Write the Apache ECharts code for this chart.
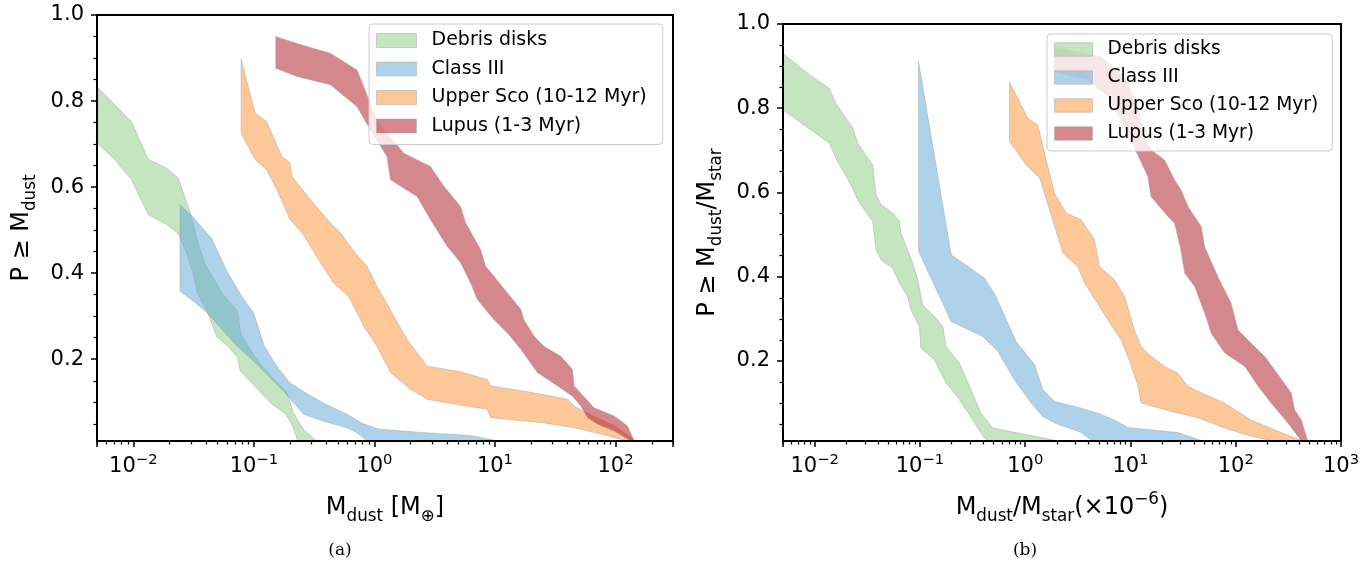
<!DOCTYPE html>
<html><head><meta charset="utf-8">
<script src="https://cdn.jsdelivr.net/npm/echarts@6/dist/echarts.min.js"></script>
<style>html,body{margin:0;padding:0;background:#fff}#c{width:1372px;height:567px}</style>
</head><body><div id="c"></div>
<script>
// ---------------- data (x, P) ----------------
const seriesNames = ['Debris disks', 'Class III', 'Upper Sco (10-12 Myr)', 'Lupus (1-3 Myr)'];

// panel (a): Mdust [M_earth]
const debrisA_upper = [[0.005,0.833],[0.00968,0.752],[0.0133,0.665],[0.0189,0.644],[0.0236,0.621],[0.0295,0.543],[0.0338,0.478],[0.0394,0.420],[0.0556,0.350],[0.0733,0.312],[0.0777,0.261],[0.1025,0.204],[0.139,0.161],[0.188,0.122],[0.213,0.076],[0.258,0.037],[0.334,0.01]];
const debrisA_lower = [[0.005,0.702],[0.00703,0.664],[0.00968,0.617],[0.0133,0.536],[0.0189,0.513],[0.0236,0.492],[0.0277,0.447],[0.0315,0.397],[0.0338,0.355],[0.0413,0.310],[0.0492,0.252],[0.0623,0.227],[0.0733,0.204],[0.0769,0.173],[0.1076,0.130],[0.139,0.097],[0.182,0.074],[0.210,0.045],[0.231,0.01]];
const classA_upper = [[0.0244,0.559],[0.0315,0.530],[0.0448,0.480],[0.0597,0.405],[0.0795,0.346],[0.0993,0.308],[0.122,0.231],[0.155,0.184],[0.200,0.145],[0.284,0.118],[0.384,0.097],[0.593,0.072],[0.795,0.051],[1.08,0.038],[2.41,0.030],[6.28,0.023],[10.7,0.01]];
const classA_lower = [[0.0244,0.358],[0.0315,0.335],[0.0394,0.312],[0.0525,0.274],[0.0722,0.231],[0.0993,0.196],[0.1367,0.157],[0.176,0.126],[0.213,0.099],[0.258,0.072],[0.379,0.056],[0.574,0.042],[0.718,0.029],[0.870,0.01]];
const uscoA_upper = [[0.0784,0.897],[0.1025,0.772],[0.128,0.752],[0.171,0.671],[0.200,0.656],[0.207,0.625],[0.294,0.571],[0.431,0.517],[0.522,0.494],[0.695,0.447],[0.869,0.416],[1.05,0.370],[1.45,0.300],[1.87,0.246],[2.74,0.184],[5.19,0.171],[8.64,0.153],[9.21,0.138],[17.4,0.126],[40.0,0.107],[45.4,0.091],[62.5,0.070],[97.0,0.046],[148,0.01]];
const uscoA_lower = [[0.0784,0.726],[0.1025,0.664],[0.128,0.640],[0.160,0.586],[0.200,0.524],[0.251,0.494],[0.344,0.432],[0.459,0.377],[0.611,0.346],[0.815,0.277],[1.05,0.230],[1.36,0.169],[1.99,0.130],[2.74,0.107],[5.19,0.093],[8.64,0.084],[9.21,0.064],[24.0,0.053],[45.4,0.041],[75.6,0.026],[126,0.01]];
const lupusA_upper = [[0.152,0.950],[0.228,0.934],[0.431,0.911],[0.718,0.872],[0.815,0.834],[1.05,0.756],[1.75,0.679],[2.92,0.648],[3.77,0.602],[5.19,0.555],[5.71,0.517],[7.60,0.455],[8.37,0.416],[9.82,0.393],[12.7,0.354],[16.4,0.316],[17.4,0.292],[21.1,0.254],[25.5,0.230],[35.2,0.207],[44.0,0.176],[45.4,0.138],[66.5,0.087],[97.5,0.068],[126,0.045],[143,0.01]];
const lupusA_lower = [[0.152,0.876],[0.228,0.857],[0.431,0.838],[0.718,0.787],[0.926,0.733],[1.27,0.671],[1.36,0.617],[2.26,0.578],[2.92,0.524],[4.02,0.462],[5.19,0.424],[6.28,0.377],[7.14,0.339],[9.82,0.292],[12.7,0.261],[16.4,0.223],[22.5,0.169],[33.0,0.138],[44.0,0.114],[51.6,0.091],[58.6,0.064],[71.0,0.049],[97.5,0.033],[134,0.01]];

// panel (b): Mdust/Mstar (x1e-6)
const debrisB_upper = [[0.005,0.930],[0.00855,0.883],[0.0138,0.847],[0.0159,0.812],[0.0230,0.753],[0.0256,0.717],[0.0356,0.665],[0.0383,0.594],[0.0427,0.571],[0.0551,0.551],[0.0638,0.531],[0.0661,0.503],[0.0855,0.432],[0.0953,0.393],[0.106,0.333],[0.137,0.306],[0.165,0.282],[0.177,0.234],[0.237,0.195],[0.296,0.140],[0.381,0.076],[0.492,0.041],[0.851,0.029],[1.52,0.017],[2.04,0.01]];
const debrisB_lower = [[0.005,0.796],[0.0138,0.717],[0.0159,0.681],[0.0221,0.618],[0.0256,0.582],[0.0356,0.531],[0.0383,0.464],[0.0427,0.440],[0.0551,0.420],[0.0638,0.385],[0.0764,0.353],[0.0822,0.321],[0.0989,0.282],[0.102,0.231],[0.137,0.203],[0.177,0.148],[0.237,0.108],[0.296,0.072],[0.354,0.041],[0.410,0.017],[0.441,0.01]];
const classB_upper = [[0.097,0.911],[0.198,0.452],[0.410,0.397],[0.528,0.353],[0.819,0.246],[1.23,0.191],[1.47,0.132],[1.90,0.104],[3.40,0.088],[4.89,0.076],[7.06,0.060],[9.45,0.042],[28.2,0.030],[48.8,0.01]];
const classB_lower = [[0.097,0.460],[0.198,0.294],[0.395,0.258],[0.549,0.223],[0.791,0.155],[1.14,0.100],[1.47,0.068],[1.90,0.053],[3.40,0.030],[4.39,0.01]];
const uscoB_upper = [[0.709,0.863],[1.06,0.776],[1.32,0.760],[1.58,0.677],[1.90,0.598],[2.45,0.551],[3.40,0.535],[4.56,0.488],[5.08,0.424],[7.06,0.393],[8.79,0.353],[10.9,0.274],[12.6,0.234],[15.7,0.211],[21.1,0.187],[28.2,0.171],[35.2,0.140],[43.7,0.128],[78.4,0.100],[140,0.060],[252,0.033],[435,0.01]];
const uscoB_lower = [[0.709,0.721],[1.02,0.665],[1.37,0.634],[1.58,0.586],[1.95,0.511],[2.28,0.456],[3.16,0.424],[3.66,0.385],[5.08,0.329],[6.10,0.297],[8.16,0.250],[9.87,0.198],[11.8,0.140],[12.6,0.100],[24.4,0.080],[43.7,0.065],[78.4,0.041],[140,0.021],[217,0.011]];
const lupusB_upper = [[1.87,0.945],[3.16,0.934],[5.27,0.922],[8.79,0.875],[11.8,0.804],[13.4,0.737],[15.7,0.701],[21.1,0.677],[26.2,0.630],[30.3,0.606],[35.2,0.567],[47.0,0.519],[50.6,0.472],[67.7,0.400],[90.6,0.337],[105,0.274],[140,0.242],[188,0.211],[234,0.179],[337,0.124],[363,0.084],[420,0.060],[484,0.01]];
const lupusB_lower = [[1.87,0.886],[3.94,0.867],[6.10,0.828],[8.16,0.772],[10.9,0.706],[14.6,0.638],[15.7,0.590],[22.7,0.543],[26.2,0.527],[30.1,0.464],[32.7,0.409],[40.7,0.377],[50.6,0.314],[58.5,0.266],[78.4,0.219],[122,0.187],[163,0.140],[217,0.100],[313,0.053],[420,0.01]];

// axis ranges and tick values
const xRangeA = [0.005, 300];
const xRangeB = [0.005, 1000];
const yRange = [0.01, 1.0];
const yMajorTicks = [0.2, 0.4, 0.6, 0.8, 1.0];
const yMinorTicks = [0.05,0.1,0.15,0.25,0.3,0.35,0.45,0.5,0.55,0.65,0.7,0.75,0.85,0.9,0.95];
const minorMultipliers = [2,3,4,5,6,7,8,9];

// ---------------- styling ----------------
const FONT = 'DejaVu Sans';
const COLORS = ['rgba(139,201,129,0.5)', 'rgba(93,165,213,0.5)', 'rgba(251,143,47,0.5)', 'rgba(169,15,27,0.5)'];
const EDGE = 'rgba(165,165,165,0.45)';

function minorLogTicks(range) {
  const out = [];
  for (let n = -4; n <= 4; n++) for (const m of minorMultipliers) {
    const v = m * Math.pow(10, n);
    if (v >= range[0] * 0.9999 && v <= range[1] * 1.0001) out.push(Math.log10(v));
  }
  return out;
}

function logLabel(v) {
  const e = Math.log10(v), r = Math.round(e);
  if (Math.abs(e - r) > 1e-6) return '';
  return '{b|10}{p|' + (r < 0 ? '\u2212' : '') + Math.abs(r) + '}';
}

function band(name, upper, lower, color, axisIdx) {
  const poly = upper.concat(lower.slice().reverse());
  return {
    type: 'custom', name: name, xAxisIndex: axisIdx, yAxisIndex: axisIdx, clip: true,
    data: [poly[0]],
    itemStyle: { color: color },
    silent: true,
    renderItem: function (params, api) {
      return {
        type: 'polygon',
        shape: { points: poly.map(function (p) { return api.coord(p); }) },
        style: { fill: color, stroke: EDGE, lineWidth: 1 }
      };
    }
  };
}

function mainX(grid, range, fs) {
  return {
    type: 'log', gridIndex: grid, min: range[0], max: range[1], position: 'bottom', z: 5,
    axisLine: { show: true, onZero: false, lineStyle: { color: '#000', width: 2 } },
    axisTick: { show: true, length: 6, lineStyle: { color: '#000', width: 1.5 } },
    splitLine: { show: false }, minorTick: { show: false },
    axisLabel: { show: true, margin: 12, formatter: logLabel, color: '#000',
      rich: { b: { fontSize: fs, fontFamily: FONT, color: '#000', lineHeight: 28 },
              p: { fontSize: fs * 0.7, fontFamily: FONT, color: '#000', lineHeight: 14, verticalAlign: 'top' } } }
  };
}
function minorX(grid, range) {
  return {
    type: 'value', gridIndex: grid, min: Math.log10(range[0]), max: Math.log10(range[1]), position: 'bottom', z: 5,
    axisLine: { show: false, onZero: false }, axisLabel: { show: false }, splitLine: { show: false },
    axisTick: { show: true, length: 3.5, customValues: minorLogTicks(range), lineStyle: { color: '#000', width: 1.2 } }
  };
}
function mainY(grid, fs) {
  return {
    type: 'value', gridIndex: grid, min: yRange[0], max: yRange[1], position: 'left', z: 5,
    axisLine: { show: true, onZero: false, lineStyle: { color: '#000', width: 2 } },
    axisTick: { show: true, length: 6, customValues: yMajorTicks, lineStyle: { color: '#000', width: 1.5 } },
    splitLine: { show: false },
    axisLabel: { show: true, margin: 13, customValues: yMajorTicks, color: '#000', fontSize: fs, fontFamily: FONT,
      formatter: function (v) { return v.toFixed(1); } }
  };
}
function minorY(grid) {
  return {
    type: 'value', gridIndex: grid, min: yRange[0], max: yRange[1], position: 'left', z: 5,
    axisLine: { show: false, onZero: false }, axisLabel: { show: false }, splitLine: { show: false },
    axisTick: { show: true, length: 3.5, customValues: yMinorTicks, lineStyle: { color: '#000', width: 1.2 } }
  };
}

const titleRich = function (fs) {
  return {
    n: { fontSize: fs, fontFamily: FONT, color: '#000', lineHeight: 34 },
    s: { fontSize: fs * 0.7, fontFamily: FONT, color: '#000', lineHeight: 17, verticalAlign: 'bottom' },
    p: { fontSize: fs * 0.7, fontFamily: FONT, color: '#000', lineHeight: 17, verticalAlign: 'top' }
  };
};

const xA = mainX(0, xRangeA, 21);
xA.name = '{n|M}{s|dust}{n| [M}{s|\u2295}{n|]}';
xA.nameLocation = 'middle'; xA.nameGap = 50; xA.nameTextStyle = { rich: titleRich(24) };
const xB = mainX(1, xRangeB, 21);
xB.name = '{n|M}{s|dust}{n|/M}{s|star}{n|(\u00d710}{p|\u22126}{n|)}';
xB.nameLocation = 'middle'; xB.nameGap = 50; xB.nameTextStyle = { rich: titleRich(24) };
const yA = mainY(0, 21);
yA.name = '{n|P \u2265 M}{s|dust}';
yA.nameLocation = 'middle'; yA.nameRotate = 90; yA.nameGap = 58; yA.nameTextStyle = { rich: titleRich(24) };
const yB = mainY(1, 21);
yB.name = '{n|P \u2265 M}{s|dust}{n|/M}{s|star}';
yB.nameLocation = 'middle'; yB.nameRotate = 90; yB.nameGap = 58; yB.nameTextStyle = { rich: titleRich(24) };

function legendCfg(left, top, fs, iw, ih, gap, pad) {
  return {
    orient: 'vertical', left: left, top: top, selectedMode: false, z: 8,
    itemWidth: iw, itemHeight: ih, itemGap: gap, icon: 'rect',
    padding: pad,
    backgroundColor: 'rgba(255,255,255,0.8)', borderColor: '#cccccc', borderWidth: 1, borderRadius: 4,
    textStyle: { fontSize: fs, fontFamily: FONT, color: '#000', lineHeight: fs, padding: [0, 0, 0, 10] },
    data: seriesNames.map(function (n, i) {
      return { name: n, itemStyle: { color: COLORS[i], borderColor: EDGE, borderWidth: 1 } };
    })
  };
}

const option = {
  animation: false,
  backgroundColor: '#fff',
  grid: [
    { left: 97, top: 15, width: 576, height: 426, show: true, borderColor: '#000', borderWidth: 2, z: 5, containLabel: false },
    { left: 783, top: 24, width: 558, height: 417, show: true, borderColor: '#000', borderWidth: 2, z: 5, containLabel: false }
  ],
  xAxis: [xA, minorX(0, xRangeA), xB, minorX(1, xRangeB)],
  yAxis: [yA, minorY(0), yB, minorY(1)],
  legend: [legendCfg(369, 24, 19, 40, 14, 9.5, [7, 16, 9, 7]), legendCfg(1047, 34, 18.6, 38, 13.5, 9.0, [6, 14, 8, 7])],
  graphic: [
    { type: 'text', x: 340, y: 551, style: { text: '(a)', font: '17px "DejaVu Serif"', fill: '#000', align: 'center', verticalAlign: 'middle' } },
    { type: 'text', x: 1025, y: 551, style: { text: '(b)', font: '17px "DejaVu Serif"', fill: '#000', align: 'center', verticalAlign: 'middle' } }
  ],
  series: [
    band(seriesNames[0], debrisA_upper, debrisA_lower, COLORS[0], 0),
    band(seriesNames[1], classA_upper, classA_lower, COLORS[1], 0),
    band(seriesNames[2], uscoA_upper, uscoA_lower, COLORS[2], 0),
    band(seriesNames[3], lupusA_upper, lupusA_lower, COLORS[3], 0),
    band(seriesNames[0], debrisB_upper, debrisB_lower, COLORS[0], 2),
    band(seriesNames[1], classB_upper, classB_lower, COLORS[1], 2),
    band(seriesNames[2], uscoB_upper, uscoB_lower, COLORS[2], 2),
    band(seriesNames[3], lupusB_upper, lupusB_lower, COLORS[3], 2)
  ]
};

const chart = echarts.init(document.getElementById('c'), null, { renderer: 'canvas' });
chart.setOption(option);
</script>
</body></html>
